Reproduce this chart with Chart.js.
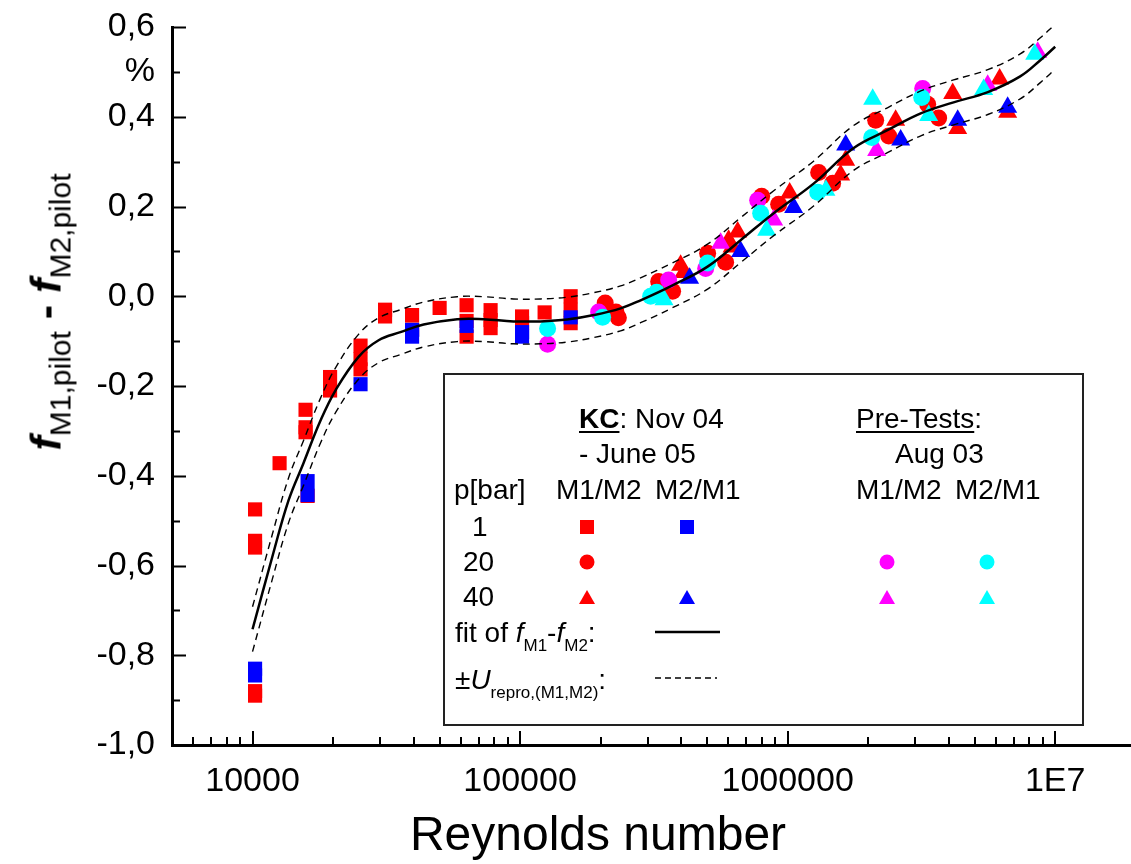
<!DOCTYPE html>
<html>
<head>
<meta charset="utf-8">
<title>f_M1 - f_M2 vs Reynolds number</title>
<script src="https://cdn.jsdelivr.net/npm/chart.js@4.4.1/dist/chart.umd.min.js"></script>
<style>
  html, body { margin: 0; background: #fff; }
  body { font-family: "Liberation Sans", Arial, sans-serif; color: #000; }
  #wrap { position: relative; width: 1131px; height: 864px; overflow: hidden; }
  #plot { position: absolute; left: 0; top: 0; }
  .ytitle { position: absolute; left: 46px; top: 312px; transform: translate(-50%, -50%) rotate(-90deg);
            white-space: nowrap; font-size: 43px; line-height: 1; }
  .ytitle .f { font-weight: bold; font-style: italic; }
  .ytitle .dash { font-weight: bold; }
  .ytitle .sub { font-size: 30px; position: relative; top: 10px; }
  .xtitle { position: absolute; left: 598px; top: 810px; transform: translateX(-50%);
            white-space: nowrap; font-size: 48px; line-height: 1; }
  #legend { position: absolute; left: 443px; top: 373px; width: 641px; height: 353px;
            box-sizing: border-box; border: 2px solid #222; }
  #legend .t { position: absolute; font-size: 28px; line-height: 1; white-space: nowrap; }
  #legend .s { font-size: 17px; position: relative; top: 9px; }
  #legend u { text-decoration-thickness: 2px; text-underline-offset: 3px; }
  #legend svg { position: absolute; left: 0; top: 0; }
</style>
</head>
<body>
<div id="wrap">
  <canvas id="plot" width="1131" height="864"></canvas>

  <div class="ytitle"><span class="f">f</span><span class="sub">M1,pilot</span><span class="dash"> - </span><span class="f">f</span><span class="sub">M2,pilot</span></div>
  <div class="xtitle">Reynolds number</div>

  <div id="legend">
    <svg width="637" height="349">
      <rect x="135" y="145" width="14" height="14" fill="#ff0000"/>
      <rect x="235" y="145" width="14" height="14" fill="#0000ff"/>
      <circle cx="142" cy="187" r="7.5" fill="#ff0000"/>
      <circle cx="442" cy="187" r="7.5" fill="#ff00ff"/>
      <circle cx="542" cy="187" r="7.5" fill="#00ffff"/>
      <polygon points="134,229 150,229 142,215" fill="#ff0000"/>
      <polygon points="234,229 250,229 242,215" fill="#0000ff"/>
      <polygon points="434,229 450,229 442,215" fill="#ff00ff"/>
      <polygon points="534,229 550,229 542,215" fill="#00ffff"/>
      <line x1="210" y1="257" x2="275" y2="257" stroke="#000" stroke-width="2.5"/>
      <line x1="210" y1="303" x2="272" y2="303" stroke="#000" stroke-width="1.3" stroke-dasharray="6,4"/>
    </svg>
    <div class="t" style="left:134px; top:30px"><u><b>KC</b></u>: Nov 04</div>
    <div class="t" style="left:134px; top:65px">- June 05</div>
    <div class="t" style="left:411px; top:30px"><u>Pre-Tests</u>:</div>
    <div class="t" style="left:450px; top:65px">Aug 03</div>
    <div class="t" style="left:9px; top:101px">p[bar]</div>
    <div class="t" style="left:111px; top:101px">M1/M2</div>
    <div class="t" style="left:210px; top:101px">M2/M1</div>
    <div class="t" style="left:411px; top:101px">M1/M2</div>
    <div class="t" style="left:510px; top:101px">M2/M1</div>
    <div class="t" style="left:27px; top:138px">1</div>
    <div class="t" style="left:18px; top:173px">20</div>
    <div class="t" style="left:18px; top:208px">40</div>
    <div class="t" style="left:10px; top:244px">fit of <i>f</i><span class="s">M1</span>-<i>f</i><span class="s">M2</span>:</div>
    <div class="t" style="left:10px; top:291px">±<i>U</i><span class="s">repro,(M1,M2)</span>:</div>
  </div>
</div>

<script>
// Re on x, f_M1,pilot - f_M2,pilot in % on y

// KC, Nov 04 - June 05, M1/M2, p = 1 bar
const redSqRe = [10220, 10220, 10220, 10220, 10220, 12620, 15780, 15780, 15780, 16060, 19490, 19490,
  25330, 25330, 25330, 31280, 31280, 39470, 39470, 50030, 63100, 63100, 63100, 77580, 77580, 77580,
  101700, 101700, 123500, 154500, 154500, 154500];
const redSqDf = [-0.475, -0.545, -0.56, -0.88, -0.89, -0.372, -0.253, -0.292, -0.303, -0.445, -0.18, -0.21,
  -0.11, -0.14, -0.163, -0.03, -0.045, -0.042, -0.074, -0.026, -0.02, -0.055, -0.09, -0.031, -0.053, -0.071,
  -0.045, -0.06, -0.036, 0.0, -0.03, -0.06];

// KC, M2/M1, p = 1 bar
const blueSqRe = [10220, 10220, 16060, 16060, 25330, 39470, 39470, 63100, 101700, 101700, 154500];
const blueSqDf = [-0.83, -0.845, -0.412, -0.443, -0.196, -0.075, -0.09, -0.066, -0.08, -0.09, -0.047];

// KC, M1/M2, p = 20 bar
const redCirRe = [208000, 228000, 233000, 329600, 371600, 502300, 586400, 799600, 925600,
  1306000, 1473000, 2133000, 2386000, 3337000, 3668000];
const redCirDf = [-0.015, -0.035, -0.048, 0.033, 0.011, 0.096, 0.076, 0.223, 0.205,
  0.276, 0.252, 0.392, 0.357, 0.428, 0.397];

// KC, M1/M2, p = 40 bar
const redTriRe = [398100, 408500, 601700, 620000, 650400, 1017500, 1578000, 1648000, 2533000,
  4139000, 4321000, 6200000, 6642000];
const redTriDf = [0.069, 0.053, 0.125, 0.11, 0.143, 0.23, 0.27, 0.303, 0.392,
  0.452, 0.374, 0.484, 0.41];

// KC, M2/M1, p = 40 bar
const blueTriRe = [430100, 667400, 1053000, 1648000, 2645000, 4321000, 6642000];
const blueTriDf = [0.04, 0.10, 0.198, 0.337, 0.348, 0.392, 0.421];

// Pre-tests Aug 03, M1/M2 and M2/M1, p = 20 bar
const magCirRe = [126700, 196600, 359000, 493800, 772600, 3197000];
const magCirDf = [-0.107, -0.035, 0.036, 0.062, 0.214, 0.463];
const cyanCirRe = [126700, 203400, 307600, 323800, 502300, 792700, 1295000, 2061000, 3170000];
const cyanCirDf = [-0.072, -0.047, 0.0, 0.009, 0.074, 0.185, 0.232, 0.354, 0.443];

// Pre-tests Aug 03, M1/M2 and M2/M1, p = 40 bar
const magTriRe = [561700, 886600, 2151000, 5593000, 8603000];
const magTriDf = [0.118, 0.17, 0.325, 0.47, 0.544];
const cyanTriRe = [345000, 834700, 1390000, 2079000, 3366000, 5403000, 8384000];
const cyanTriDf = [-0.008, 0.147, 0.236, 0.439, 0.403, 0.461, 0.539];

// fit of f_M1 - f_M2 and the +/- U_repro band
const fitRe = [10000, 11850, 13630, 15500, 17950, 20450, 24900, 29600, 35700, 43600, 58200, 73000,
  94500, 119000, 150000, 188600, 237500, 282000, 373000, 502000, 667000, 887000, 1250000, 1760000,
  2360000, 3160000, 4170000, 5600000, 7400000, 8800000, 10000000];
const fitDf = [-0.742, -0.581, -0.455, -0.372, -0.277, -0.209, -0.135, -0.098, -0.080, -0.063, -0.051, -0.051,
  -0.056, -0.056, -0.052, -0.042, -0.027, -0.009, 0.025, 0.066, 0.125, 0.185, 0.251, 0.33,
  0.37, 0.408, 0.432, 0.455, 0.49, 0.526, 0.556];
const uprDf = [-0.692, -0.531, -0.405, -0.322, -0.227, -0.159, -0.085, -0.048, -0.030, -0.013, -0.001, -0.001,
  -0.006, -0.006, -0.002, 0.008, 0.023, 0.041, 0.075, 0.116, 0.175, 0.235, 0.301, 0.38,
  0.42, 0.458, 0.482, 0.505, 0.54, 0.576, 0.606];
const lwrDf = [-0.792, -0.631, -0.505, -0.422, -0.327, -0.259, -0.185, -0.148, -0.130, -0.113, -0.101, -0.101,
  -0.106, -0.106, -0.102, -0.092, -0.077, -0.059, -0.025, 0.016, 0.075, 0.135, 0.201, 0.28,
  0.32, 0.358, 0.382, 0.405, 0.44, 0.476, 0.506];

// axis ticks
const xLabelTicks = [10000, 100000, 1000000, 10000000];
const yMin = -1.0, yMax = 0.6;

const pts = (xs, ys) => xs.map((x, i) => ({ x, y: ys[i] }));

function markers(xs, ys, style, color, radius, order) {
  return {
    data: pts(xs, ys), pointStyle: style, pointRadius: radius, backgroundColor: color,
    borderWidth: 0, showLine: false, order
  };
}

function curve(ys, width, dash) {
  return {
    data: pts(fitRe, ys), showLine: true, borderColor: "#000", borderWidth: width,
    borderDash: dash, pointRadius: 0, tension: 0.4, fill: false, order: dash.length ? 1 : 0
  };
}

// inward tick marks, long on decades / even tenths, short otherwise
const tickMarks = {
  id: "tickMarks",
  afterDraw(chart) {
    const { ctx, chartArea: a, scales: { x, y } } = chart;
    ctx.save();
    ctx.strokeStyle = "#000";
    ctx.lineWidth = 2;
    ctx.beginPath();
    for (let k = Math.round(yMin * 10); k <= Math.round(yMax * 10); k++) {
      const py = Math.round(y.getPixelForValue(k / 10)) + 0.5;
      ctx.moveTo(a.left, py);
      ctx.lineTo(a.left + (k % 2 === 0 ? 14 : 8), py);
    }
    for (let d = 3; d <= 7; d++) {
      for (let m = 1; m <= 9; m++) {
        const v = m * Math.pow(10, d);
        if (v < x.min || v > x.max) continue;
        const px = Math.round(x.getPixelForValue(v));
        ctx.moveTo(px, a.bottom);
        ctx.lineTo(px, a.bottom - (m === 1 ? 14 : 8));
      }
    }
    ctx.stroke();
    ctx.restore();
  }
};

Chart.defaults.font.family = "'Liberation Sans', Arial, sans-serif";
Chart.defaults.color = "#000";

new Chart(document.getElementById("plot"), {
  type: "scatter",
  data: {
    datasets: [
      curve(fitDf, 2.5, []),
      curve(uprDf, 1.4, [7, 5]),
      curve(lwrDf, 1.4, [7, 5]),
      markers(cyanCirRe, cyanCirDf, "circle", "#00ffff", 8.5, 2),
      markers(cyanTriRe, cyanTriDf, "triangle", "#00ffff", 11, 2),
      markers(magCirRe, magCirDf, "circle", "#ff00ff", 8.5, 3),
      markers(magTriRe, magTriDf, "triangle", "#ff00ff", 11, 3),
      markers(blueSqRe, blueSqDf, "rect", "#0000ff", 10, 4),
      markers(blueTriRe, blueTriDf, "triangle", "#0000ff", 11, 4),
      markers(redSqRe, redSqDf, "rect", "#ff0000", 10, 5),
      markers(redCirRe, redCirDf, "circle", "#ff0000", 8.5, 5),
      markers(redTriRe, redTriDf, "triangle", "#ff0000", 11, 5)
    ]
  },
  options: {
    responsive: false,
    animation: false,
    layout: { autoPadding: false, padding: { top: 27, left: 0, right: 0, bottom: 0 } },
    plugins: { legend: { display: false }, tooltip: { enabled: false } },
    scales: {
      x: {
        type: "logarithmic",
        min: 5000,
        max: 19200000,
        grid: { display: false, drawTicks: false },
        border: { display: true, color: "#000", width: 3 },
        afterBuildTicks: s => { s.ticks = xLabelTicks.map(v => ({ value: v })); },
        afterFit: s => { s.height = 119; s.paddingLeft = 0; s.paddingRight = 0; },
        ticks: {
          autoSkip: false, maxRotation: 0, padding: 16,
          font: { size: 34 },
          callback: v => (v === 10000000 ? "1E7" : String(v))
        }
      },
      y: {
        type: "linear",
        min: yMin,
        max: yMax,
        grid: { display: false, drawTicks: false },
        border: { display: true, color: "#000", width: 3 },
        afterFit: s => { s.width = 172; s.paddingTop = 0; s.paddingBottom = 0; },
        ticks: {
          autoSkip: false, stepSize: 0.1, padding: 17,
          font: { size: 34 },
          callback: v => {
            const k = Math.round(v * 10);
            if (k === 5) return "%";
            if (k % 2 !== 0) return "";
            return (k / 10).toFixed(1).replace(".", ",");
          }
        }
      }
    }
  },
  plugins: [tickMarks]
});
</script>
</body>
</html>
